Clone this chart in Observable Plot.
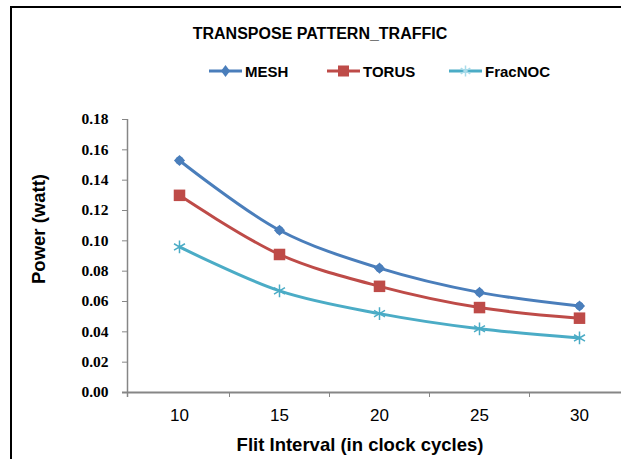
<!DOCTYPE html>
<html>
<head>
<meta charset="utf-8">
<script src="https://cdn.jsdelivr.net/npm/d3@7"></script>
<script src="https://cdn.jsdelivr.net/npm/@observablehq/plot@0.6"></script>
<style>
  html, body { margin: 0; padding: 0; background: #fff; }
  #wrap { position: relative; width: 621px; height: 459px; overflow: hidden; font-family: "Liberation Sans", Arial, sans-serif; }
  #wrap svg.plot { position: absolute; left: 0; top: 0; }
  .abs { position: absolute; white-space: nowrap; line-height: 1; }
  #border { position: absolute; left: 10px; top: 6px; width: 700px; height: 600px; border-left: 2.5px solid #000; border-top: 2px solid #000; }
  .leg { position: absolute; top: 63px; height: 16px; display: flex; align-items: center; font-weight: bold; font-size: 15px; color: #000; }
  .leg svg { display: block; margin-right: 3px; }
  svg.plot g[aria-label="y-axis tick label"] text { font-family: "Liberation Serif", "Times New Roman", serif; }
</style>
</head>
<body>
<div id="wrap"><div id="border"></div></div>
<script>
// ---- data ----
const flitIntervals = [10, 15, 20, 25, 30];
const meshPower    = [0.153, 0.107, 0.082, 0.066, 0.057];
const torusPower   = [0.130, 0.091, 0.070, 0.056, 0.049];
const fracnocPower = [0.096, 0.067, 0.052, 0.042, 0.036];
const seriesNames  = ["MESH", "TORUS", "FracNOC"];
const seriesColors = ["#4A7EBB", "#BE4B48", "#4BACC6"];
const yTickValues  = [0, 0.02, 0.04, 0.06, 0.08, 0.10, 0.12, 0.14, 0.16, 0.18];
const categoryEdges = [12.5, 17.5, 22.5, 27.5];
const chartTitle = "TRANSPOSE PATTERN_TRAFFIC";
const xTitle = "Flit Interval (in clock cycles)";
const yTitle = "Power (watt)";

const seriesValues = [meshPower, torusPower, fracnocPower];
const rows = [];
seriesNames.forEach((s, k) => flitIntervals.forEach((x, i) => rows.push({series: s, x, y: seriesValues[k][i]})));
const bySeries = s => rows.filter(d => d.series === s);

const axisGray = "#868686";
const chart = Plot.plot({
  width: 621,
  height: 459,
  marginLeft: 127,
  marginRight: 0,
  marginTop: 119,
  marginBottom: 67,
  x: {type: "linear", domain: [7.4, 32.1]},
  y: {domain: [0, 0.18]},
  color: {domain: seriesNames, range: seriesColors},
  marks: [
    Plot.axisY(yTickValues, {tickSize: 5, tickPadding: 14, tickFormat: d => d.toFixed(2), stroke: axisGray, fill: "#000",
      fontFamily: "Liberation Serif", fontSize: 15.5, fontWeight: "bold", label: null}),
    Plot.axisX(flitIntervals, {tickSize: 0, tickPadding: 16, fontSize: 17, fill: "#000",
      fontFamily: "Liberation Sans", label: null}),
    Plot.axisX(categoryEdges, {tickSize: 5, tickFormat: () => "", stroke: axisGray, label: null}),
    Plot.ruleX([7.4], {stroke: axisGray, strokeWidth: 1.5, insetBottom: -5}),
    Plot.ruleY([0], {stroke: axisGray, strokeWidth: 2, insetLeft: -5}),
    Plot.line(rows, {x: "x", y: "y", z: "series", stroke: "series", strokeWidth: 3, curve: "catmull-rom"}),
    Plot.dot(bySeries("MESH"), {x: "x", y: "y", symbol: "diamond2", r: 5, fill: "series"}),
    Plot.dot(bySeries("MESH"), {x: "x", y: "y", symbol: "circle", r: 4, fill: "series"}),
    Plot.dot(bySeries("TORUS"), {x: "x", y: "y", symbol: "square", r: 6.5, fill: "series"}),
    Plot.dot(bySeries("FracNOC"), {x: "x", y: "y", symbol: "asterisk", r: 6, stroke: "series", strokeWidth: 1.5})
  ]
});
chart.classList.add("plot");
const wrap = document.getElementById("wrap");
wrap.insertBefore(chart, wrap.firstChild);

function addText(text, css) {
  const d = document.createElement("div");
  d.className = "abs";
  d.textContent = text;
  Object.assign(d.style, css);
  wrap.appendChild(d);
  return d;
}
addText(chartTitle, {left: "320px", top: "25.5px", transform: "translateX(-50%)", fontSize: "16px", fontWeight: "bold"});
addText(xTitle, {left: "360px", top: "436px", transform: "translateX(-50%)", fontSize: "18.5px", fontWeight: "bold"});
addText(yTitle, {left: "38.5px", top: "229px", transform: "translate(-50%,-50%) rotate(-90deg)", fontSize: "18.5px", fontWeight: "bold"});

// legend
const legendLeft = [209, 327, 449];
const symbols = {MESH: "diamond", TORUS: "square", FracNOC: "asterisk"};
seriesNames.forEach((s, i) => {
  const item = document.createElement("div");
  item.className = "leg";
  item.style.left = legendLeft[i] + "px";
  const ns = "http://www.w3.org/2000/svg";
  const sw = document.createElementNS(ns, "svg");
  sw.setAttribute("width", 33); sw.setAttribute("height", 16);
  const c = seriesColors[i];
  let inner = `<line x1="0" x2="33" y1="8" y2="8" stroke="${c}" stroke-width="3"/>`;
  if (symbols[s] === "diamond") inner += `<path d="M16.5,2 L21,8 L16.5,14 L12,8Z" fill="${c}"/>`;
  if (symbols[s] === "square") inner += `<rect x="11" y="2.5" width="11" height="11" fill="${c}"/>`;
  if (symbols[s] === "asterisk") inner += `<path d="M16.5,2.5V13.5M11.7,5.2L21.3,10.8M11.7,10.8L21.3,5.2" stroke="#a9dcea" stroke-width="1.5" fill="none"/>`;
  sw.innerHTML = inner;
  item.appendChild(sw);
  const t = document.createElement("span");
  t.textContent = s;
  item.appendChild(t);
  wrap.appendChild(item);
});
</script>
</body>
</html>
